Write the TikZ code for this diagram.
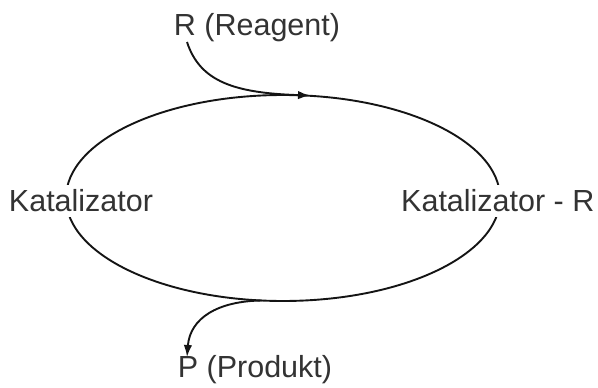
\documentclass[tikz,border=0pt]{standalone}
\usepackage{fontspec}
\setmainfont{Liberation Sans}
\usetikzlibrary{arrows.meta,shapes.geometric}
\definecolor{txt}{HTML}{333333}
\tikzset{
  lbl/.style={font=\fontsize{30.5}{33}\selectfont, text=txt, inner sep=3pt},
  cut/.style={lbl, fill=white, inner sep=5pt},
  ln/.style={line width=1.9pt, draw=black!92},
  arr/.style={ln, -{Latex[length=12pt,width=8.5pt]}}
}
\begin{document}
\begin{tikzpicture}[x=1pt,y=-1pt]
\useasboundingbox (0,0) rectangle (598,388);
\node[ln, ellipse, minimum width=434pt, minimum height=206pt, inner sep=0pt] (cyc) at (283,198) {};
\node[cut] (kat) at (81,201) {Katalizator};
\node[cut, anchor=west] (katr) at (396,201) {Katalizator - R};
\node[lbl] (r) at (257,28) {R (Reagent)};
\node[lbl] (p) at (255,370) {P (Produkt)};
\coordinate (rs) at (187,42);
\coordinate (rt) at (310,95.5);
\coordinate (ps) at (262,300.5);
\coordinate (pt) at (187,357);
\draw[arr] (rs) .. controls (200,82) and (235,93) .. (rt);
\draw[arr] (ps) .. controls (218,301) and (190,318) .. (pt);
\end{tikzpicture}
\end{document}
